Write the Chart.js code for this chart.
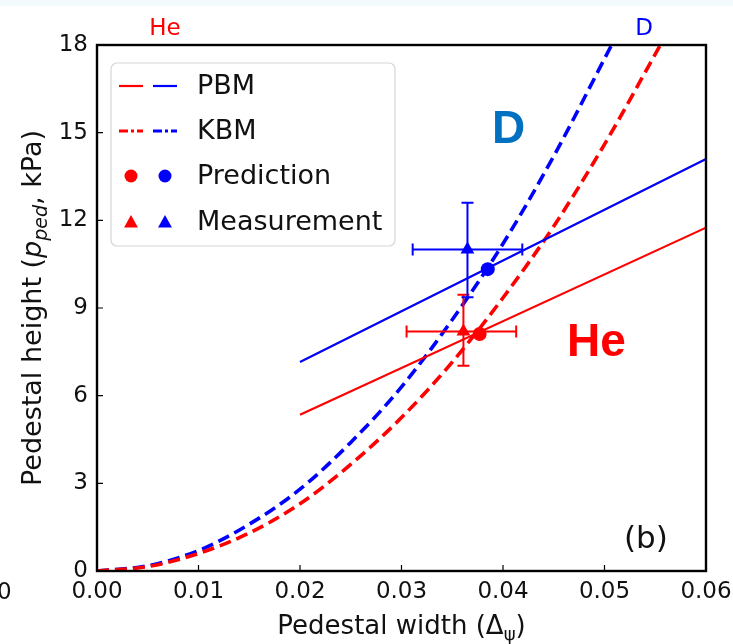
<!DOCTYPE html>
<html>
<head>
<meta charset="utf-8">
<title>Pedestal height vs width</title>
<script src="https://cdn.jsdelivr.net/npm/chart.js@4.4.1/dist/chart.umd.min.js"></script>
<style>
  html, body { margin: 0; padding: 0; background: #ffffff; }
  #wrap { width: 733px; height: 644px; }
</style>
</head>
<body>
<div id="wrap"><canvas id="ped-chart" width="733" height="644"></canvas></div>
<script>
// --- data ---

const X_TICKS = [0, 0.01, 0.02, 0.03, 0.04, 0.05, 0.06];
const Y_TICKS = [0, 3, 6, 9, 12, 15, 18];

// KBM stability boundary (dashed curves)
const kbmWidthD = [0, 0.005, 0.01, 0.015, 0.02, 0.025, 0.03, 0.035, 0.04, 0.045, 0.0507];
const kbmHeightD = [0, 0.18, 0.7, 1.6, 2.8, 4.4, 6.3, 8.6, 11.2, 14.2, 18];
const kbmWidthHe = [0, 0.005, 0.01, 0.015, 0.02, 0.025, 0.03, 0.035, 0.04, 0.045, 0.05, 0.0555];
const kbmHeightHe = [0, 0.15, 0.6, 1.3, 2.3, 3.65, 5.25, 7.15, 9.35, 11.8, 14.6, 18];

// PBM boundary (solid lines)
const pbmWidth = [0.02, 0.06];
const pbmHeightD = [7.15, 14.1];
const pbmHeightHe = [5.35, 11.75];

// order: He, D
const SPECIES = ["He", "D"];
const SPECIES_COLOURS = ["#ff0000", "#0000ff"];
const predWidth = [0.0377, 0.0385];
const predHeight = [8.11, 10.33];
const measWidth = [0.0361, 0.0365];
const measHeight = [8.2, 11.0];
const measWidthLo = [0.0305, 0.0311];
const measWidthHi = [0.0413, 0.0419];
const measHeightLo = [7.02, 9.37];
const measHeightHi = [9.45, 12.6];

const FONT = "'DejaVu Sans', sans-serif";

function toPoints(xs, ys) {
  return xs.map(function (x, i) {
    return { x: x, y: ys[i] };
  });
}

// --- plugins ---

// white page with the thin tinted strip along the top edge
const backgroundPlugin = {
  id: "background",
  beforeDraw: function (chart) {
    const ctx = chart.ctx;
    ctx.save();
    ctx.fillStyle = "#ffffff";
    ctx.fillRect(0, 0, chart.width, chart.height);
    ctx.fillStyle = "#f2fafb";
    ctx.fillRect(0, 0, chart.width, 6);
    ctx.restore();
  },
};

// error bars for the measurements, drawn through the scales
const errorBarPlugin = {
  id: "errorBars",
  afterDatasetsDraw: function (chart) {
    const ctx = chart.ctx;
    const xs = chart.scales.x;
    const ys = chart.scales.y;
    const cap = 6;
    ctx.save();
    ctx.lineWidth = 2;
    SPECIES.forEach(function (name, i) {
      const px = xs.getPixelForValue(measWidth[i]);
      const py = ys.getPixelForValue(measHeight[i]);
      const x0 = xs.getPixelForValue(measWidthLo[i]);
      const x1 = xs.getPixelForValue(measWidthHi[i]);
      const y0 = ys.getPixelForValue(measHeightLo[i]);
      const y1 = ys.getPixelForValue(measHeightHi[i]);
      ctx.strokeStyle = SPECIES_COLOURS[i];
      ctx.beginPath();
      ctx.moveTo(x0, py); ctx.lineTo(x1, py);
      ctx.moveTo(x0, py - cap); ctx.lineTo(x0, py + cap);
      ctx.moveTo(x1, py - cap); ctx.lineTo(x1, py + cap);
      ctx.moveTo(px, y0); ctx.lineTo(px, y1);
      ctx.moveTo(px - cap, y0); ctx.lineTo(px + cap, y0);
      ctx.moveTo(px - cap, y1); ctx.lineTo(px + cap, y1);
      ctx.stroke();
    });
    ctx.restore();
  },
};

// frame, inward ticks, axis titles, legend and labels
const decorPlugin = {
  id: "decor",
  afterDraw: function (chart) {
    const ctx = chart.ctx;
    const area = chart.chartArea;
    const xs = chart.scales.x;
    const ys = chart.scales.y;
    ctx.save();

    // inward tick marks
    ctx.strokeStyle = "#000000";
    ctx.lineWidth = 1.2;
    ctx.beginPath();
    X_TICKS.forEach(function (v) {
      const px = xs.getPixelForValue(v);
      ctx.moveTo(px, area.bottom);
      ctx.lineTo(px, area.bottom - 6);
    });
    Y_TICKS.forEach(function (v) {
      const py = ys.getPixelForValue(v);
      ctx.moveTo(area.left, py);
      ctx.lineTo(area.left + 6, py);
    });
    ctx.stroke();

    // axes frame
    ctx.lineWidth = 2.4;
    ctx.strokeRect(area.left, area.top, area.right - area.left, area.bottom - area.top);

    // x title with subscript psi
    ctx.fillStyle = "#111111";
    ctx.textBaseline = "alphabetic";
    const big = "26px " + FONT;
    const sub = "18px " + FONT;
    ctx.font = big;
    const xa = "Pedestal width (\u0394";
    const xb = "\u03c8";
    const xc = ")";
    const wa = ctx.measureText(xa).width;
    const wc = ctx.measureText(xc).width;
    ctx.font = sub;
    const wb = ctx.measureText(xb).width;
    let xStart = (area.left + area.right) / 2 - (wa + wb + wc) / 2;
    const xBase = 634;
    ctx.font = big;
    ctx.fillText(xa, xStart, xBase);
    ctx.font = sub;
    ctx.fillText(xb, xStart + wa, xBase + 6);
    ctx.font = big;
    ctx.fillText(xc, xStart + wa + wb, xBase);

    // y title, rotated, with italic p_ped
    ctx.save();
    ctx.translate(41, (area.top + area.bottom) / 2);
    ctx.rotate(-Math.PI / 2);
    const ya = "Pedestal height (";
    const yb = "p";
    const yc = "ped";
    const yd = ", kPa)";
    const yBig = "27px " + FONT;
    const ital = "italic 27px " + FONT;
    const italSub = "italic 19px " + FONT;
    ctx.font = yBig;
    const w1 = ctx.measureText(ya).width;
    const w4 = ctx.measureText(yd).width;
    ctx.font = ital;
    const w2 = ctx.measureText(yb).width;
    ctx.font = italSub;
    const w3 = ctx.measureText(yc).width;
    let t = -(w1 + w2 + w3 + w4) / 2;
    ctx.font = yBig;
    ctx.fillText(ya, t, 0);
    t += w1;
    ctx.font = ital;
    ctx.fillText(yb, t, 0);
    t += w2;
    ctx.font = italSub;
    ctx.fillText(yc, t, 6);
    t += w3;
    ctx.font = yBig;
    ctx.fillText(yd, t, 0);
    ctx.restore();

    // stray tick label at the left edge
    ctx.font = "23px " + FONT;
    ctx.textAlign = "left";
    ctx.fillText("0", -3, 599);

    // species labels above the frame
    ctx.font = "23px " + FONT;
    ctx.textAlign = "center";
    ctx.fillStyle = "#ff0000";
    ctx.fillText("He", 165, 35);
    ctx.fillStyle = "#0000ff";
    ctx.fillText("D", 644, 35);

    // bold species labels inside the plot
    ctx.font = "bold 46px 'Liberation Sans', Arial, sans-serif";
    ctx.textAlign = "left";
    ctx.fillStyle = "#0070c0";
    ctx.fillText("D", 492, 143);
    ctx.fillStyle = "#ff0000";
    ctx.fillText("He", 567, 356);

    // panel tag
    ctx.font = "31px " + FONT;
    ctx.fillStyle = "#111111";
    ctx.fillText("(b)", 624, 548);

    drawLegend(ctx);
    ctx.restore();
  },
};

function roundRect(ctx, x, y, w, h, r) {
  ctx.beginPath();
  ctx.moveTo(x + r, y);
  ctx.lineTo(x + w - r, y);
  ctx.arcTo(x + w, y, x + w, y + r, r);
  ctx.lineTo(x + w, y + h - r);
  ctx.arcTo(x + w, y + h, x + w - r, y + h, r);
  ctx.lineTo(x + r, y + h);
  ctx.arcTo(x, y + h, x, y + h - r, r);
  ctx.lineTo(x, y + r);
  ctx.arcTo(x, y, x + r, y, r);
  ctx.closePath();
}

function drawTriangle(ctx, cx, cy, s) {
  ctx.beginPath();
  ctx.moveTo(cx, cy - s);
  ctx.lineTo(cx + s * 0.87, cy + s * 0.55);
  ctx.lineTo(cx - s * 0.87, cy + s * 0.55);
  ctx.closePath();
  ctx.fill();
}

function drawLegend(ctx) {
  ctx.save();
  roundRect(ctx, 111, 63, 284, 183, 6);
  ctx.fillStyle = "rgba(255,255,255,0.85)";
  ctx.fill();
  ctx.strokeStyle = "#d6d6d6";
  ctx.lineWidth = 1.2;
  ctx.stroke();

  const rows = [86, 131, 176, 222];
  const handleX = [[119, 143], [153, 177]];

  SPECIES_COLOURS.forEach(function (c, i) {
    const a = handleX[i][0];
    const b = handleX[i][1];
    ctx.strokeStyle = c;
    ctx.fillStyle = c;

    // PBM
    ctx.lineWidth = 2.2;
    ctx.setLineDash([]);
    ctx.beginPath();
    ctx.moveTo(a, rows[0]);
    ctx.lineTo(b, rows[0]);
    ctx.stroke();

    // KBM
    ctx.lineWidth = 3;
    ctx.setLineDash([9, 3, 3, 3]);
    ctx.beginPath();
    ctx.moveTo(a, rows[1]);
    ctx.lineTo(b, rows[1]);
    ctx.stroke();
    ctx.setLineDash([]);

    // Prediction / Measurement markers
    const mid = (a + b) / 2;
    ctx.beginPath();
    ctx.arc(mid, rows[2], 6.5, 0, Math.PI * 2);
    ctx.fill();
    drawTriangle(ctx, mid, rows[3] + 1, 8);
  });

  ctx.fillStyle = "#111111";
  ctx.font = "27px " + FONT;
  ctx.textAlign = "left";
  ctx.textBaseline = "middle";
  ["PBM", "KBM", "Prediction", "Measurement"].forEach(function (label, i) {
    ctx.fillText(label, 197, rows[i] + 1);
  });
  ctx.restore();
}

// --- chart ---

const datasets = [
  {
    label: "Prediction He",
    data: [{ x: predWidth[0], y: predHeight[0] }],
    pointStyle: "circle",
    pointRadius: 7,
    backgroundColor: SPECIES_COLOURS[0],
    borderColor: SPECIES_COLOURS[0],
    borderWidth: 0,
  },
  {
    label: "Prediction D",
    data: [{ x: predWidth[1], y: predHeight[1] }],
    pointStyle: "circle",
    pointRadius: 7,
    backgroundColor: SPECIES_COLOURS[1],
    borderColor: SPECIES_COLOURS[1],
    borderWidth: 0,
  },
  {
    label: "Measurement He",
    data: [{ x: measWidth[0], y: measHeight[0] }],
    pointStyle: "triangle",
    pointRadius: 8,
    backgroundColor: SPECIES_COLOURS[0],
    borderColor: SPECIES_COLOURS[0],
    borderWidth: 0,
  },
  {
    label: "Measurement D",
    data: [{ x: measWidth[1], y: measHeight[1] }],
    pointStyle: "triangle",
    pointRadius: 8,
    backgroundColor: SPECIES_COLOURS[1],
    borderColor: SPECIES_COLOURS[1],
    borderWidth: 0,
  },
  {
    label: "PBM He",
    data: toPoints(pbmWidth, pbmHeightHe),
    showLine: true,
    pointRadius: 0,
    borderColor: SPECIES_COLOURS[0],
    borderWidth: 2.2,
  },
  {
    label: "PBM D",
    data: toPoints(pbmWidth, pbmHeightD),
    showLine: true,
    pointRadius: 0,
    borderColor: SPECIES_COLOURS[1],
    borderWidth: 2.2,
  },
  {
    label: "KBM He",
    data: toPoints(kbmWidthHe, kbmHeightHe),
    showLine: true,
    pointRadius: 0,
    borderColor: SPECIES_COLOURS[0],
    borderWidth: 3.6,
    borderDash: [12, 6],
    cubicInterpolationMode: "monotone",
  },
  {
    label: "KBM D",
    data: toPoints(kbmWidthD, kbmHeightD),
    showLine: true,
    pointRadius: 0,
    borderColor: SPECIES_COLOURS[1],
    borderWidth: 3.6,
    borderDash: [12, 6],
    cubicInterpolationMode: "monotone",
  },
];

new Chart(document.getElementById("ped-chart"), {
  type: "scatter",
  data: { datasets: datasets },
  plugins: [backgroundPlugin, errorBarPlugin, decorPlugin],
  options: {
    responsive: false,
    animation: false,
    layout: { padding: { top: 45, right: 27, left: 0, bottom: 0 } },
    plugins: {
      legend: { display: false },
      tooltip: { enabled: false },
    },
    scales: {
      x: {
        type: "linear",
        min: 0,
        max: 0.06,
        afterBuildTicks: function (scale) {
          scale.ticks = X_TICKS.map(function (v) { return { value: v }; });
        },
        afterFit: function (scale) {
          // let the end labels hang past the frame
          scale.height = 73;
          scale.paddingLeft = 0;
          scale.paddingRight = 0;
        },
        grid: { display: false, drawTicks: false },
        border: { display: false },
        ticks: {
          padding: 7,
          color: "#111111",
          font: { family: FONT, size: 23 },
          callback: function (v) { return Number(v).toFixed(2); },
        },
      },
      y: {
        type: "linear",
        min: 0,
        max: 18,
        afterBuildTicks: function (scale) {
          scale.ticks = Y_TICKS.map(function (v) { return { value: v }; });
        },
        afterFit: function (scale) {
          scale.width = 97;
          scale.paddingTop = 0;
          scale.paddingBottom = 0;
        },
        grid: { display: false, drawTicks: false },
        border: { display: false },
        ticks: {
          padding: 9,
          color: "#111111",
          font: { family: FONT, size: 23 },
        },
      },
    },
  },
});
</script>
</body>
</html>
